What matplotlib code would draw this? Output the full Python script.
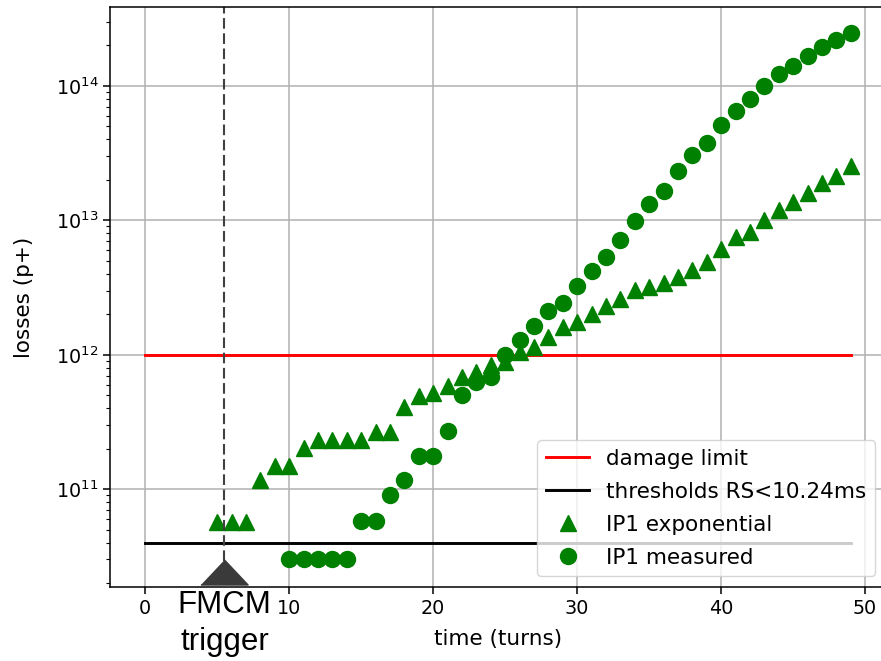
import numpy as np
import matplotlib.pyplot as plt
from matplotlib import transforms

# turns 0..49
turns = np.arange(50)

# IP1 exponential (nan = not drawn)
ip1_exp = [np.nan] * 5 + [
    5.7e10, 5.7e10, 5.7e10, 1.17e11, 1.48e11,
    1.48e11, 2.02e11, 2.31e11, 2.31e11, 2.31e11,
    2.31e11, 2.67e11, 2.67e11, 4.1e11, 4.93e11,
    5.2e11, 5.84e11, 6.84e11, 7.45e11, 8.36e11,
    8.84e11, 1.05e12, 1.14e12, 1.35e12, 1.61e12,
    1.75e12, 2.02e12, 2.29e12, 2.62e12, 3.02e12,
    3.17e12, 3.44e12, 3.81e12, 4.27e12, 4.9e12,
    6.17e12, 7.5e12, 8.2e12, 1.0e13, 1.19e13,
    1.37e13, 1.61e13, 1.88e13, 2.14e13, 2.54e13]

# IP1 measured
ip1_meas = [np.nan] * 10 + [
    3.0e10, 3.0e10, 3.0e10, 3.0e10, 3.0e10,
    5.8e10, 5.8e10, 9.0e10, 1.18e11, 1.76e11,
    1.76e11, 2.69e11, 5.0e11, 6.28e11, 6.84e11,
    9.9e11, 1.28e12, 1.63e12, 2.13e12, 2.43e12,
    3.23e12, 4.17e12, 5.3e12, 7.1e12, 9.9e12,
    1.33e13, 1.64e13, 2.33e13, 3.04e13, 3.76e13,
    5.09e13, 6.46e13, 8.0e13, 9.9e13, 1.23e14,
    1.40e14, 1.66e14, 1.94e14, 2.21e14, 2.48e14]

damage_limit = 1e12
threshold = 4e10
fmcm_turn = 5.5

plt.rcParams['font.size'] = 13.8

fig = plt.figure(figsize=(8.81, 6.61), dpi=100)
ax = fig.add_axes([110 / 881, 74 / 661, 776 / 881, 580 / 661])

ax.plot([turns[0], turns[-1]], [damage_limit] * 2, color='r', lw=2.1, label='damage limit')
ax.plot([turns[0], turns[-1]], [threshold] * 2, color='k', lw=2.1, label='thresholds RS<10.24ms')
ax.plot(turns, ip1_exp, '^', color='g', ms=11.5, label='IP1 exponential')
ax.plot(turns, ip1_meas, 'o', color='g', ms=11.5, label='IP1 measured')

ax.set_yscale('log')
ax.set_xlim(-2.45, 51.45)
ax.set_ylim(1.873e10, 3.86e14)
ax.set_xticks([0, 10, 20, 30, 40, 50])
ax.grid(True, which='major', color='#b0b0b0', lw=1.1)
ax.set_xlabel('time (turns)', fontsize=15.5, labelpad=8)
ax.set_ylabel('losses (p+)', fontsize=15.5, labelpad=16)
ax.tick_params(which='major', length=4.8, width=1.1)
ax.tick_params(which='minor', length=2.8, width=0.8)
for sp in ax.spines.values():
    sp.set_linewidth(1.1)

# FMCM trigger marker
trans = transforms.blended_transform_factory(ax.transData, ax.transAxes)
ax.plot([fmcm_turn, fmcm_turn], [0.045, 1.0], transform=trans, ls=(0, (5.1, 2.2)),
        color='#404040', lw=1.5, clip_on=False, scalex=False, scaley=False)
tri = [(-1, -0.53), (1, -0.53), (0, 0.53)]
ax.plot([fmcm_turn], [0.0265], transform=trans, marker=tri, ms=34,
        color='#3a3a3a', ls='none', clip_on=False, zorder=5)
ax.text(fmcm_turn, -0.005, 'FMCM\ntrigger', transform=trans, ha='center', va='top',
        fontsize=22.5, family=['Liberation Sans', 'DejaVu Sans'], linespacing=1.32)

ax.legend(loc='lower right', fontsize=15.5, labelspacing=0.6)

fig.savefig('out.png', dpi=100)
